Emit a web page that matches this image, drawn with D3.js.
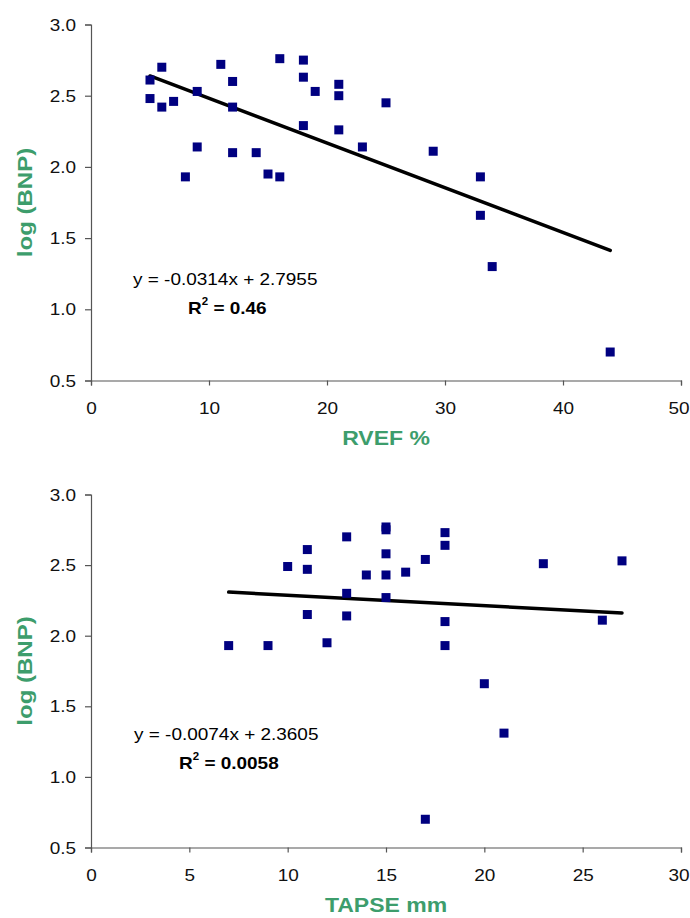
<!DOCTYPE html>
<html>
<head>
<meta charset="utf-8">
<script src="https://cdn.jsdelivr.net/npm/d3@7"></script>
<style>
  html, body { margin: 0; padding: 0; background: #fff; }
  svg { display: block; font-family: "Liberation Sans", Arial, sans-serif; }
</style>
</head>
<body>
<svg id="chart" width="690" height="918"></svg>
<script>
// panel A: RVEF % vs log(BNP)
const rvefX = [5, 5, 6, 6, 7, 8, 9, 9, 11, 12, 12, 12, 14, 15, 16, 16, 18, 18, 18, 19, 21, 21, 21, 23, 25, 29, 33, 33, 34, 44];
const rvefY = [2.61, 2.48, 2.70, 2.42, 2.46, 1.93, 2.53, 2.14, 2.72, 2.60, 2.42, 2.10, 2.10, 1.95, 2.76, 1.93, 2.75, 2.63, 2.29, 2.53, 2.58, 2.50, 2.26, 2.14, 2.45, 2.11, 1.93, 1.66, 1.30, 0.70];
const rvefFit = { slope: -0.0314, intercept: 2.7955, from: 5, to: 44 };
const rvefTicksX = [0, 10, 20, 30, 40, 50];

// panel B: TAPSE mm vs log(BNP)
const tapseX = [7, 9, 10, 11, 11, 11, 12, 13, 13, 13, 14, 15, 15, 15, 15, 15, 16, 17, 17, 18, 18, 18, 18, 20, 21, 23, 26, 27];
const tapseY = [1.93, 1.93, 2.49, 2.61, 2.47, 2.15, 1.95, 2.70, 2.30, 2.14, 2.43, 2.77, 2.75, 2.58, 2.43, 2.27, 2.45, 2.54, 0.70, 2.73, 2.64, 2.10, 1.93, 1.66, 1.31, 2.51, 2.11, 2.53];
const tapseFit = { slope: -0.0074, intercept: 2.3605, from: 7, to: 27 };
const tapseTicksX = [0, 5, 10, 15, 20, 25, 30];

const yTicks = [0.5, 1.0, 1.5, 2.0, 2.5, 3.0];

const GREEN = '#3d9d6c';
const NAVY = '#000080';
const SX = 1.15; // glyphs in the source are a bit wider than Arial

const svg = d3.select('#chart');

function stretched(g, x, y, txt, opts) {
  const t = g.append('text')
    .attr('transform', `translate(${x},${y}) scale(${SX},1)`)
    .attr('text-anchor', opts.anchor || 'start')
    .attr('dominant-baseline', 'central')
    .attr('font-size', opts.size || 16.5)
    .attr('font-weight', opts.bold ? 'bold' : 'normal')
    .attr('fill', opts.color || '#000');
  if (typeof txt === 'string') t.text(txt);
  return t;
}

function drawPanel(cfg) {
  const g = svg.append('g');
  const x = d3.scaleLinear().domain([0, cfg.xMax]).range([91, 681]);
  const y = d3.scaleLinear().domain([0.5, 3.0]).range([cfg.bottom, cfg.top]);

  // axes
  const xAxis = d3.axisBottom(x).tickValues(cfg.xTicks).tickSize(5).tickFormat(d3.format('d'));
  const yAxis = d3.axisLeft(y).tickValues(yTicks).tickSize(6).tickFormat(d3.format('.1f'));

  const gx = g.append('g').attr('transform', `translate(0,${cfg.bottom})`).call(xAxis);
  const gy = g.append('g').attr('transform', 'translate(91,0)').call(yAxis);
  [gx, gy].forEach(a => {
    a.select('.domain').attr('stroke', '#555').attr('stroke-width', 1.2);
    a.selectAll('.tick line').attr('stroke', '#555').attr('stroke-width', 1.2);
    a.selectAll('.tick text').attr('font-size', 16.5).attr('fill', '#111')
      .attr('font-family', '"Liberation Sans", Arial, sans-serif');
  });
  gx.selectAll('.tick text').attr('y', 0).attr('dy', 0)
    .attr('dominant-baseline', 'central')
    .attr('transform', `translate(0,28) scale(${SX},1)`);
  // last label sits against the page edge, keep it inside
  gx.selectAll('.tick text').filter(d => d === cfg.xMax)
    .attr('text-anchor', 'end')
    .attr('transform', `translate(${689 - x(cfg.xMax)},28) scale(${SX},1)`);
  gy.selectAll('.tick text').attr('x', 0).attr('dy', 0)
    .attr('dominant-baseline', 'central')
    .attr('transform', `translate(-15,0) scale(${SX},1)`);

  // trend line
  const fit = cfg.fit;
  g.append('line')
    .attr('x1', x(fit.from)).attr('y1', y(fit.slope * fit.from + fit.intercept))
    .attr('x2', x(fit.to)).attr('y2', y(fit.slope * fit.to + fit.intercept))
    .attr('stroke', '#000').attr('stroke-width', 3.5).attr('stroke-linecap', 'round');

  // points
  const pts = cfg.xs.map((v, i) => ({ x: v, y: cfg.ys[i] }));
  g.selectAll('rect.pt').data(pts).enter().append('rect')
    .attr('class', 'pt')
    .attr('x', d => x(d.x) - 4.5).attr('y', d => y(d.y) - 4.5)
    .attr('width', 9).attr('height', 9)
    .attr('fill', NAVY);

  // equation + R2
  stretched(g, cfg.eqX, cfg.eqY, cfg.eq, { size: 16.5 });
  const r2 = stretched(g, cfg.r2X, cfg.eqY + 29, null, { size: 16.5, bold: true });
  r2.append('tspan').text('R');
  r2.append('tspan').attr('font-size', 10).attr('dy', -7).text('2');
  r2.append('tspan').attr('dy', 7).text(' = ' + cfg.r2);

  // axis titles
  stretched(g, 386, cfg.bottom + 58, cfg.xTitle, { size: 20, bold: true, color: GREEN, anchor: 'middle' });
  g.append('text')
    .attr('transform', `translate(25,${(cfg.top + cfg.bottom) / 2}) rotate(-90) scale(${SX + 0.05},1)`)
    .attr('text-anchor', 'middle').attr('dominant-baseline', 'central')
    .attr('font-size', 20).attr('font-weight', 'bold').attr('fill', GREEN)
    .text('log (BNP)');
}

drawPanel({
  xs: rvefX, ys: rvefY, fit: rvefFit, xMax: 50, xTicks: rvefTicksX,
  top: 24.5, bottom: 380.5,
  eq: 'y = -0.0314x + 2.7955', eqX: 133, eqY: 279, r2X: 188, r2: '0.46',
  xTitle: 'RVEF %'
});

drawPanel({
  xs: tapseX, ys: tapseY, fit: tapseFit, xMax: 30, xTicks: tapseTicksX,
  top: 494.5, bottom: 847.5,
  eq: 'y = -0.0074x + 2.3605', eqX: 134, eqY: 734, r2X: 179, r2: '0.0058',
  xTitle: 'TAPSE mm'
});
</script>
</body>
</html>
